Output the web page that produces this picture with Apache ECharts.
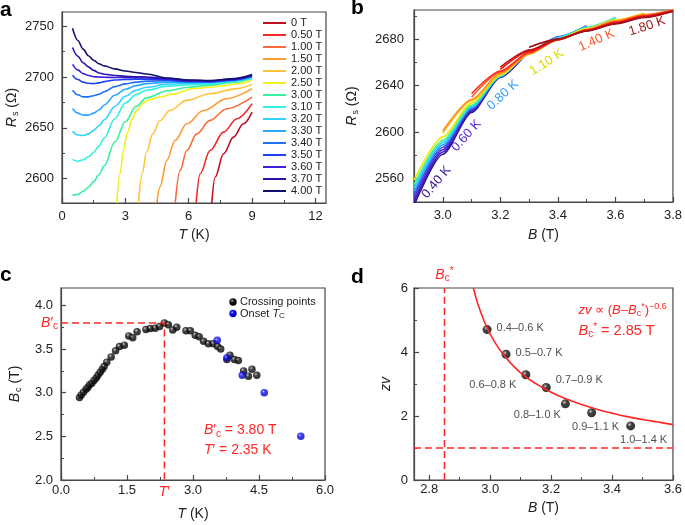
<!DOCTYPE html>
<html><head><meta charset="utf-8">
<script src="https://cdn.jsdelivr.net/npm/echarts@6/dist/echarts.min.js"></script>
<style>html,body{margin:0;padding:0;background:#fff}#c{width:685px;height:525px}</style>
</head><body><div id="c"></div>
<script>
// ================= Panel a : Rs vs T at fixed B =================
const fieldsA = ['0 T','0.50 T','1.00 T','1.50 T','2.00 T','2.50 T','3.00 T','3.10 T','3.20 T','3.30 T','3.40 T','3.50 T','3.60 T','3.70 T','4.00 T'];
const colorsA = ['#c0101e','#f52626','#fb6a38','#ff9a30','#ffc43c','#f2f01a','#38f0a0','#30f0e4','#32d2ff','#2aa6ff','#2070f6','#1a40f2','#3a22dc','#2a14ae','#10106e'];
// low-field curves (each with own temperature grid)
const tA0   = [7.09, 7.25, 7.65, 8.12, 8.59, 9.0];
const rA0   = [2576, 2601.4, 2624.5, 2640.8, 2654, 2665.5];
const tA050 = [6.35, 6.54, 7.01, 7.65, 8.28, 9.0];
const rA050 = [2576, 2604.8, 2627.7, 2645.8, 2659, 2673.8];
const tA100 = [5.36, 5.59, 5.91, 6.38, 7.01, 7.8, 9.0];
const rA100 = [2576, 2608, 2627.7, 2644, 2657.3, 2668.8, 2680.3];
const tA150 = [4.49, 4.64, 4.96, 5.36, 5.91, 6.7, 7.8, 9.0];
const rA150 = [2576, 2592, 2618, 2637.6, 2654, 2667, 2678.7, 2688.6];
const tA200 = [3.62, 3.8, 4.0, 4.3, 4.64, 5.1, 5.9, 7.0, 8.28, 9.0];
const rA200 = [2576, 2605, 2626, 2644, 2657, 2667, 2677, 2683.6, 2688.6, 2693];
const tA250 = [2.59, 2.75, 2.9, 3.1, 3.3, 3.55, 3.8, 4.1, 4.64, 5.2, 6.22, 7.0, 7.8, 8.5, 9.0];
const rA250 = [2576, 2605, 2627, 2645, 2658, 2667, 2673.5, 2677.5, 2680.3, 2683, 2688.6, 2690, 2691.8, 2694, 2697];
// high-field curves share one temperature grid
const tHi   = [0.5, 0.75, 1.0, 1.25, 1.5, 1.75, 2.0, 2.5, 3.0, 3.5, 4.0, 5.0, 6.0, 7.0, 8.0, 9.0];
const rA300 = [2583.5, 2584.5, 2587.5, 2591.5, 2597, 2604, 2612.5, 2636, 2656, 2671, 2679.5, 2686.5, 2690, 2692, 2694.5, 2698.5];
const rA310 = [2619, 2617, 2618.5, 2621.5, 2626, 2632, 2640, 2659, 2674.5, 2682.5, 2687, 2691, 2692.5, 2693.5, 2695.5, 2699];
const rA320 = [2646.5, 2643, 2642.5, 2644, 2647.5, 2652, 2658, 2671, 2681, 2687, 2690, 2693, 2693.8, 2694.2, 2696, 2699.5];
const rA330 = [2669, 2664.5, 2662.5, 2662.5, 2664.5, 2667.5, 2672.5, 2682, 2688, 2691.5, 2693.5, 2695, 2694.8, 2694.8, 2696.5, 2700];
const rA340 = [2687, 2682.5, 2680.5, 2680.5, 2681.5, 2683, 2685.5, 2690.5, 2693.3, 2695, 2696, 2696.3, 2695.2, 2695.2, 2696.8, 2700.5];
const rA350 = [2701.7, 2697.5, 2695, 2693.8, 2693.5, 2694.2, 2695.5, 2697, 2697.6, 2697.8, 2697.8, 2697, 2695.6, 2695.5, 2697, 2701];
const rA360 = [2712.5, 2707, 2703.3, 2701.5, 2700.3, 2700, 2699.8, 2699.6, 2699.4, 2699.2, 2699, 2697.8, 2696, 2695.8, 2697.2, 2701.5];
const rA370 = [2729, 2720.5, 2714, 2710, 2706.5, 2704, 2702.8, 2701.5, 2700.8, 2700.3, 2700, 2698.5, 2696.8, 2696.3, 2697.8, 2702];
const rA400 = [2748, 2736, 2727.5, 2721, 2716.5, 2713, 2711, 2708, 2706, 2704.5, 2703, 2699, 2697, 2696.5, 2698.2, 2702.5];
const tListA = [tA0, tA050, tA100, tA150, tA200, tA250, tHi, tHi, tHi, tHi, tHi, tHi, tHi, tHi, tHi];
const rListA = [rA0, rA050, rA100, rA150, rA200, rA250, rA300, rA310, rA320, rA330, rA340, rA350, rA360, rA370, rA400];

// ================= Panel b : Rs vs B at fixed T =================
const bGrid  = [2.9, 3.0, 3.1, 3.2, 3.3, 3.4, 3.5, 3.6, 3.7, 3.8];
const tempsB = ['0.40 K','0.50 K','0.60 K','0.70 K','0.80 K','0.90 K','1.00 K','1.10 K','1.20 K','1.30 K','1.40 K','1.50 K','1.60 K','1.70 K','1.80 K'];
const colorsB = ['#2a1580','#4018b8','#5028d8','#3050f0','#3399ff','#20d8f0','#40f090','#e8e800','#ffc020','#ff9020','#ff6020','#ff3020','#e81818','#c01010','#a01018'];
const rB040 = [2537, 2581, 2617, 2647, 2671, null, null, null, null, null];
const rB050 = [2540, 2583, 2618, 2647.5, 2670.5, null, null, null, null, null];
const rB060 = [2543, 2585, 2619, 2648, 2670, null, null, null, null, null];
const rB070 = [2546, 2587, 2620, 2648, 2669, 2682, 2691.5, null, null, null];
const rB080 = [2549, 2589, 2621, 2648, 2668.5, 2681.5, 2691, null, null, null];
const rB090 = [2552, 2591, 2622, 2648, 2668, 2681, 2690, 2698.5, null, null];
const rB100 = [2555, 2593, 2623, 2648.5, 2667.5, 2680.5, 2689.5, 2698, null, null];
const rB110 = [2559, 2596, 2625, 2649, 2667, 2680, 2689, 2696.5, 2702.5, null];
const rB120 = [null, 2599, 2627, 2650, 2667, 2679.5, 2688.5, 2696, 2702, null];
const rB130 = [null, 2601, 2628, 2650.5, 2667.5, 2679.5, 2688, 2695.5, 2701, 2705];
const rB140 = [null, null, 2630, 2651.5, 2668, 2679.5, 2688, 2695, 2700.5, 2705];
const rB150 = [null, null, 2633, 2652.5, 2668.5, 2679.5, 2687.5, 2694.5, 2700, 2704.5];
const rB160 = [null, null, null, 2654, 2669.5, 2679.5, 2687.5, 2694, 2699.5, 2704.5];
const rB170 = [null, null, null, 2656, 2670.5, 2680, 2687, 2693.5, 2699, 2704];
const rB180 = [null, null, null, null, 2673, 2680, 2687, 2693, 2698.5, 2704];
const rListB = [rB040, rB050, rB060, rB070, rB080, rB090, rB100, rB110, rB120, rB130, rB140, rB150, rB160, rB170, rB180];
const labelsB = ['0.40 K','0.60 K','0.80 K','1.10 K','1.40 K','1.80 K'];
const labelColorsB = ['#3a1a96','#5a2ad0','#3399ff','#e0dc00','#ff5a28','#a01818'];
const labelAtB = [[2.978, 2557], [3.082, 2597], [3.209, 2632], [3.361, 2660], [3.534, 2679], [3.710, 2691]];
const labelRotB = [50, 48, 43, 33, 24, 18];

// ================= Panel c : Bc vs T =================
const tCross = [0.42,0.46,0.51,0.57,0.61,0.65,0.70,0.75,0.80,0.84,0.89,0.94,0.98,1.04,1.14,1.24,1.33,1.44,1.54,1.63,1.73,1.93,2.03,2.14,2.24,2.35,2.44,2.54,2.63,2.84,2.94,3.05,3.14,3.24,3.35,3.46,3.56,3.63,3.77,3.84,3.94,4.03,4.15,4.26,4.34,4.45];
const bCross = [2.945,2.975,3.005,3.04,3.06,3.09,3.11,3.14,3.17,3.20,3.235,3.27,3.30,3.35,3.41,3.48,3.53,3.545,3.65,3.63,3.70,3.725,3.735,3.74,3.76,3.80,3.78,3.72,3.75,3.71,3.71,3.66,3.64,3.59,3.56,3.56,3.53,3.50,3.38,3.43,3.38,3.37,3.25,3.19,3.27,3.20];
const tOnset = [3.55, 3.77, 4.12, 4.62, 5.45];
const bOnset = [3.60, 3.40, 3.20, 3.00, 2.50];
const bcPrime = 3.80, tPrime = 2.35;

// ================= Panel d : zv vs B =================
const bD  = [2.99, 3.052, 3.117, 3.184, 3.247, 3.333, 3.461];
const zvD = [4.70, 3.93, 3.29, 2.89, 2.38, 2.10, 1.69];
const rangesD = ['0.4–0.6 K','0.5–0.7 K','0.6–0.8 K','0.7–0.9 K','0.8–1.0 K','0.9–1.1 K','1.0–1.4 K'];
const fitB  = [2.945, 2.96, 2.98, 3.00, 3.03, 3.06, 3.10, 3.15, 3.20, 3.25, 3.30, 3.35, 3.40, 3.45, 3.50, 3.55, 3.60];
const fitZv = [5.99, 5.49, 4.97, 4.56, 4.09, 3.73, 3.35, 3.01, 2.74, 2.53, 2.36, 2.21, 2.09, 1.98, 1.89, 1.81, 1.73];
const bcStar = 2.85, zvRef = 1;

// ---------------- helpers ----------------
const FONT = '"Liberation Sans", Arial, Helvetica, sans-serif';
const AX = '#474747';
const RICH = {
  i: {fontStyle:'italic', fontSize:14, color:'#222', fontFamily:FONT},
  s: {fontSize:9, color:'#222', padding:[7,0,0,1], fontFamily:FONT}
};
function axisPair(grid, min, max, majors, minors, isX, fmt, name, gap, margin) {
  const pos = isX ? 'bottom' : 'left';
  return [{
    type:'value', gridIndex:grid, min:min, max:max, position:pos,
    axisLine:{show:true, onZero:false, lineStyle:{color:AX, width:1.2}},
    axisTick:{show:true, inside:true, length:5, customValues:majors, lineStyle:{color:AX, width:1.2}},
    axisLabel:{show:true, customValues:majors, formatter:fmt, color:'#222', fontSize:13, margin:margin, fontFamily:FONT},
    splitLine:{show:false},
    name:name, nameLocation:'middle', nameGap:gap, nameRotate: isX ? 0 : 90,
    nameTextStyle:{color:'#222', fontSize:14, fontFamily:FONT, rich:RICH}
  }, {
    type:'value', gridIndex:grid, min:min, max:max, position:pos,
    axisLine:{show:false, onZero:false}, axisLabel:{show:false}, splitLine:{show:false},
    axisTick:{show:true, inside:true, length:3, customValues:minors, lineStyle:{color:AX, width:1}}
  }];
}
const f1 = v => v.toFixed(1), f0 = v => String(v);
const xAxes = [].concat(
  axisPair(0, 0, 12.5, [0,3,6,9,12], [1.5,4.5,7.5,10.5], true, f0, '{i|T} (K)', 25, 7),
  axisPair(1, 2.9, 3.8, [3.0,3.2,3.4,3.6,3.8], [3.1,3.3,3.5,3.7], true, f1, '{i|B} (T)', 26, 7),
  axisPair(2, 0, 6, [0,1.5,3,4.5,6], [0.75,2.25,3.75,5.25], true, f1, '{i|T} (K)', 27, 4),
  axisPair(3, 2.75, 3.6, [2.8,3.0,3.2,3.4,3.6], [2.9,3.1,3.3,3.5], true, f1, '{i|B} (T)', 21, 3)
);
const yAxes = [].concat(
  axisPair(0, 2576, 2764, [2600,2650,2700,2750], [2625,2675,2725], false, f0, '{i|R}{s|s} (Ω)', 42, 8),
  axisPair(1, 2540, 2705, [2560,2600,2640,2680], [2580,2620,2660,2700], false, f0, '{i|R}{s|s} (Ω)', 54, 10),
  axisPair(2, 2, 4.2, [2,2.5,3,3.5,4], [2.25,2.75,3.25,3.75], false, f1, '{i|B}{s|c} (T)', 38, 8),
  axisPair(3, 0, 6, [0,2,4,6], [1,3,5], false, f0, '{i|zv}', 21, 6)
);
const blackStops = [{offset:0,color:'#d8d8d8'},{offset:0.14,color:'#6a6a6a'},{offset:0.38,color:'#111'},{offset:1,color:'#000'}];
const blueStops  = [{offset:0,color:'#dcdcff'},{offset:0.14,color:'#5050ff'},{offset:0.38,color:'#0c0cf0'},{offset:1,color:'#0000a0'}];
function sphere(stops) { return {type:'radial', x:0.38, y:0.34, r:0.7, colorStops:stops}; }
const BLACK = sphere(blackStops), BLUE = sphere(blueStops);
const RED = '#ff2626';

const series = [];
fieldsA.forEach((nm, i) => {
  series.push({type:'line', name:nm, xAxisIndex:0, yAxisIndex:0, symbol:'none', smooth:0.35, smoothMonotone:'x',
    lineStyle:{color:colorsA[i], width:1.6}, itemStyle:{color:colorsA[i]},
    data: tListA[i].map((t, k) => [t, rListA[i][k]])});
});
tempsB.forEach((nm, i) => {
  series.push({type:'line', name:nm, xAxisIndex:2, yAxisIndex:2, symbol:'none', smooth:0.25, smoothMonotone:'x',
    lineStyle:{color:colorsB[i], width:1.6}, itemStyle:{color:colorsB[i]},
    data: bGrid.map((b, k) => [b, rListB[i][k]]).filter(p => p[1] !== null)});
});
series.push({type:'line', xAxisIndex:4, yAxisIndex:4, symbol:'none', silent:true,
  lineStyle:{color:RED, width:1.5, type:[7,4]},
  data:[[0, bcPrime], [tPrime, bcPrime], [tPrime, 2.0]]});
series.push({type:'scatter', name:'Crossing points', xAxisIndex:4, yAxisIndex:4, symbolSize:7.5,
  itemStyle:{color:BLACK}, data: tCross.map((t, k) => [t, bCross[k]])});
series.push({type:'scatter', name:'Onset Tc', xAxisIndex:4, yAxisIndex:4, symbolSize:7.5,
  itemStyle:{color:BLUE}, data: tOnset.map((t, k) => [t, bOnset[k]])});
series.push({type:'line', xAxisIndex:6, yAxisIndex:6, symbol:'none', silent:true,
  lineStyle:{color:RED, width:1.5, type:[7,4]}, data:[[bcStar, 0], [bcStar, 6]]});
series.push({type:'line', xAxisIndex:6, yAxisIndex:6, symbol:'none', silent:true,
  lineStyle:{color:RED, width:1.5, type:[7,4]}, data:[[2.75, zvRef], [3.6, zvRef]]});
series.push({type:'line', xAxisIndex:6, yAxisIndex:6, symbol:'none', smooth:0.4, silent:true,
  lineStyle:{color:RED, width:1.6}, data: fitB.map((b, k) => [b, fitZv[k]])});
const posD = ['right','right','left','right','left','bottom','bottom'];
const offD = [[0,-2],[0,-1],[0,10],[0,-8],[5,11],[4,-1],[13,-1]];
series.push({type:'scatter', xAxisIndex:6, yAxisIndex:6, symbolSize:9, itemStyle:{color:BLACK},
  data: bD.map((b, k) => ({value:[b, zvD[k]], label:{show:true, formatter:rangesD[k], position:posD[k], offset:offD[k], distance:5,
    color:'#222', fontSize:11, fontFamily:FONT}}))});

const chart = echarts.init(document.getElementById('c'), null, {renderer:'canvas'});
const gridBase = {show:true, borderColor:AX, borderWidth:1.2, backgroundColor:'transparent', containLabel:false};
chart.setOption({
  animation:false,
  backgroundColor:'#fff',
  textStyle:{fontFamily:FONT},
  grid:[
    Object.assign({left:62, top:12, width:264, height:191}, gridBase),
    Object.assign({left:414, top:10, width:264, height:192}, gridBase),
    Object.assign({left:61, top:288, width:264, height:192}, gridBase),
    Object.assign({left:414, top:288, width:264, height:192}, gridBase)
  ],
  xAxis: xAxes, yAxis: yAxes,
  legend:[{data:fieldsA, orient:'vertical', left:263, top:17, itemWidth:23, itemHeight:2, itemGap:0, icon:'rect',
    padding:0, selectedMode:false, textStyle:{fontSize:11, color:'#222', lineHeight:12, fontFamily:FONT}}],
  series: series
});

// ---------------- annotations (anchored in data coordinates) ----------------
function px(p, x, y) { return chart.convertToPixel({xAxisIndex:p*2, yAxisIndex:p*2}, [x, y]); }
function txt(pos, text, opt) {
  opt = opt || {};
  return {type:'text', x:pos[0] + (opt.dx||0), y:pos[1] + (opt.dy||0), rotation:(opt.rot||0) * Math.PI / 180, silent:true,
    style:{text:text, fill:opt.color||'#222', fontSize:opt.size||13, fontFamily:FONT, fontWeight:opt.weight||'normal',
      align:opt.align||'center', verticalAlign:opt.valign||'middle', textAlign:opt.align||'center', textVerticalAlign:opt.valign||'middle',
      rich:opt.rich}};
}
const redRich = (sz) => ({
  i:{fontStyle:'italic', fontSize:sz, fill:RED, fontFamily:FONT},
  n:{fontSize:sz, fill:RED, fontFamily:FONT},
  s:{fontSize:Math.round(sz*0.68), fill:RED, padding:[7,0,0,0], fontFamily:FONT},
  u:{fontSize:Math.round(sz*0.68), fill:RED, padding:[0,0,7,0], fontFamily:FONT}
});
const g = [];
// panel letters
g.push({type:'text', left:0, top:0, style:{text:'a', fill:'#000', fontSize:21, fontWeight:'bold', fontFamily:FONT}});
g.push({type:'text', left:351, top:-2, style:{text:'b', fill:'#000', fontSize:21, fontWeight:'bold', fontFamily:FONT}});
g.push({type:'text', left:0, top:265, style:{text:'c', fill:'#000', fontSize:21, fontWeight:'bold', fontFamily:FONT}});
g.push({type:'text', left:351, top:267, style:{text:'d', fill:'#000', fontSize:21, fontWeight:'bold', fontFamily:FONT}});
// panel b temperature labels
labelsB.forEach((s, k) => g.push(txt(px(1, labelAtB[k][0], labelAtB[k][1]), s, {color:labelColorsB[k], rot:labelRotB[k], size:13})));
// panel c annotations
g.push(txt(px(2, 0, bcPrime), '{i|B}{n|′}{s|c}', {align:'right', dx:-3, rich:redRich(14), color:RED}));
g.push(txt(px(2, tPrime, 2.0), '{i|T}{n|′}', {dy:12, rich:redRich(14), color:RED}));
g.push(txt(px(2, 3.25, 2.566), '{i|B}{n|′}{s|c}{n| = 3.80 T}', {align:'left', rich:redRich(14), color:RED}));
g.push(txt(px(2, 3.25, 2.344), '{i|T}{n|′ = 2.35 K}', {align:'left', rich:redRich(14), color:RED}));
// panel c legend
g.push({type:'circle', shape:{cx:233, cy:302, r:3.7}, silent:true, style:{fill:new echarts.graphic.RadialGradient(0.38,0.34,0.7,blackStops)}});
g.push({type:'circle', shape:{cx:233, cy:313.5, r:3.7}, silent:true, style:{fill:new echarts.graphic.RadialGradient(0.38,0.34,0.7,blueStops)}});
g.push(txt([240, 302], 'Crossing points', {align:'left', size:11}));
g.push(txt([240, 313.5], '{n|Onset }{i|T}{s|C}', {align:'left', rich:{n:{fontSize:11, fill:'#222'}, i:{fontSize:11, fontStyle:'italic', fill:'#222'}, s:{fontSize:8, fill:'#222', padding:[5,0,0,0]}}}));
// panel d annotations
g.push(txt(px(3, bcStar, 6), '{i|B}{s|c}{u|*}', {dy:-13, rich:redRich(14), color:RED}));
g.push(txt(px(3, 3.29, 5.31), '{i|zv}{n| ∝ (}{i|B}{n|–}{i|B}{s|c}{u|*}{n|)}{u|−0.6}', {align:'left', rich:redRich(13), color:RED}));
g.push(txt(px(3, 3.29, 4.66), '{i|B}{s|c}{u|*}{n| = 2.85 T}', {align:'left', rich:redRich(14.5), color:RED}));
chart.setOption({graphic:g});
</script>
</body></html>
